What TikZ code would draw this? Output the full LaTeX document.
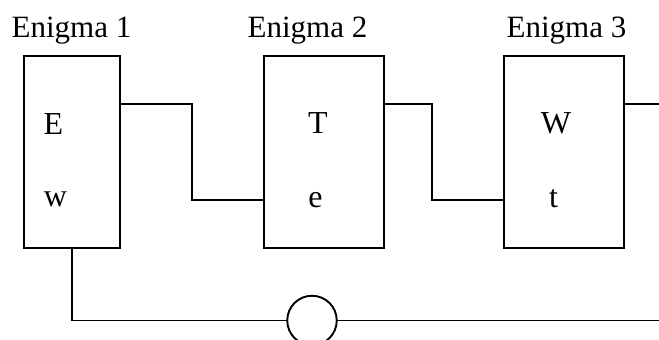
\documentclass[tikz,border=0pt]{standalone}
\usepackage{fontspec}
\setmainfont{Liberation Serif}
\tikzset{
  enigmabox/.style={draw, rectangle, line width=1.9pt, inner sep=0pt, outer sep=0pt, minimum height=192pt},
  wire/.style={line width=1.9pt},
  txt/.style={inner sep=0pt, outer sep=0pt, font=\fontsize{31}{36}\selectfont},
  boxtxt/.style={inner sep=0pt, outer sep=0pt, font=\fontsize{32}{36}\selectfont},
  ringnode/.style={draw, circle, line width=1.9pt, inner sep=0pt, outer sep=0pt, minimum size=49.5pt}
}
\begin{document}
\begin{tikzpicture}[x=1pt,y=-1pt]
\clip (0,0) rectangle (659,340);
\fill[white] (0,0) rectangle (659,340);
% titles
\node[txt, anchor=base west] (t1) at (11.6,37) {Enigma 1};
\node[txt, anchor=base west] (t2) at (247.6,37) {Enigma 2};
\node[txt, anchor=base west] (t3) at (506.6,37) {Enigma 3};
% boxes
\node[enigmabox, minimum width=96pt] (e1) at (72,152) {};
\node[enigmabox, minimum width=120pt] (e2) at (324,152) {};
\node[enigmabox, minimum width=120pt] (e3) at (564,152) {};
% letters
\node[boxtxt, anchor=base] (l1a) at (53.5,134) {E};
\node[boxtxt, anchor=base] (l1b) at (55.5,206) {w};
\node[boxtxt, anchor=base] (l2a) at (318,133) {T};
\node[boxtxt, anchor=base] (l2b) at (315.5,207) {e};
\node[boxtxt, anchor=base] (l3a) at (556,133) {W};
\node[boxtxt, anchor=base] (l3b) at (553.5,207) {t};
% wires between boxes
\coordinate (c1) at (192,104);
\coordinate (c2) at (192,200);
\coordinate (c3) at (432,104);
\coordinate (c4) at (432,200);
\coordinate (c5) at (659,104);
\draw[wire] (e1.east |- c1) -- (c1) -- (c2) -- (e2.west |- c2);
\draw[wire] (e2.east |- c3) -- (c3) -- (c4) -- (e3.west |- c4);
\draw[wire] (e3.east |- c5) -- (c5);
% bottom loop
\node[ringnode] (ring) at (312,320.5) {};
\coordinate (b0) at (72,320.5);
\coordinate (b1) at (659,320.5);
\draw[wire] (e1.south) -- (b0) -- (ring.west);
\draw[wire] (ring.east) -- (b1);
\end{tikzpicture}
\end{document}
